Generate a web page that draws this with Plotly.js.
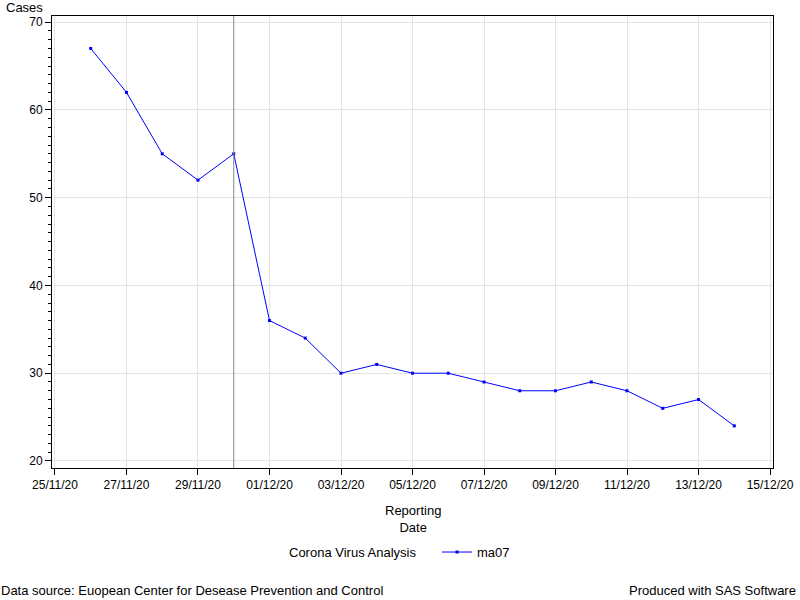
<!DOCTYPE html>
<html>
<head>
<meta charset="utf-8">
<script src="https://cdn.plot.ly/plotly-3.0.1.min.js"></script>
<style>html,body{margin:0;padding:0;background:#fff;}#chart{width:800px;height:600px;}</style>
</head>
<body>
<div id="chart"></div>
<script>
const dates = ['2020-11-26','2020-11-27','2020-11-28','2020-11-29','2020-11-30','2020-12-01','2020-12-02','2020-12-03','2020-12-04','2020-12-05','2020-12-06','2020-12-07','2020-12-08','2020-12-09','2020-12-10','2020-12-11','2020-12-12','2020-12-13','2020-12-14'];
const ma07 = [67,62,55,52,55,36,34,30,31,30,30,29,28,28,29,28,26,27,24];
const refDate = '2020-11-30';
const seriesName = 'ma07';
const legendTitle = 'Corona Virus Analysis';
const yTitle = 'Cases';
const xTitle = 'Reporting<br>Date';
const footLeft = 'Data source: Euopean Center for Desease Prevention and Control';
const footRight = 'Produced with SAS Software';

const fam = 'Liberation Sans, Arial, sans-serif';
const tickFont = {family: fam, size: 12, color: '#000'};
const font = {family: fam, size: 13, color: '#000'};

const trace = {
  x: dates, y: ma07, name: seriesName, type: 'scatter', mode: 'lines+markers',
  line: {color: '#0000ff', width: 1},
  marker: {color: '#0000ff', size: 3, symbol: 'square'}
};

const layout = {
  width: 800, height: 600,
  margin: {l: 52, r: 27, t: 16, b: 132},
  paper_bgcolor: '#fff', plot_bgcolor: '#fff',
  font: font,
  showlegend: true,
  xaxis: {
    type: 'date',
    range: ['2020-11-24 22:00', '2020-12-15 02:00'],
    tick0: '2020-11-25', dtick: 172800000,
    tickformat: '%d/%m/%y',
    ticks: 'outside', ticklen: 6, tickcolor: '#000', tickwidth: 1,
    showline: true, linecolor: '#000', linewidth: 1, mirror: true,
    showgrid: true, gridcolor: '#e4e4e4', gridwidth: 1,
    zeroline: false, tickfont: tickFont, fixedrange: true
  },
  yaxis: {
    range: [19.2, 70.7],
    tick0: 20, dtick: 10,
    ticks: 'outside', ticklen: 6, tickcolor: '#000', tickwidth: 1,
    minor: {dtick: 1, ticks: 'outside', ticklen: 3, tickcolor: '#000', showgrid: false},
    showline: true, linecolor: '#000', linewidth: 1, mirror: true,
    showgrid: true, gridcolor: '#e4e4e4', gridwidth: 1,
    zeroline: false, tickfont: tickFont, fixedrange: true
  },
  legend: {
    orientation: 'h', x: 0.534, xanchor: 'left', y: -0.186, yanchor: 'middle',
    font: font, bgcolor: 'rgba(0,0,0,0)'
  },
  shapes: [{
    type: 'line', xref: 'x', yref: 'paper', x0: refDate, x1: refDate, y0: 0, y1: 1,
    line: {color: '#888888', width: 1}
  }],
  annotations: [
    {text: yTitle, xref: 'paper', yref: 'paper', x: -0.0666, y: 1.018, xanchor: 'left', yanchor: 'middle', showarrow: false, font: font},
    {text: xTitle, xref: 'paper', yref: 'paper', x: 0.5, y: -0.113, xanchor: 'center', yanchor: 'middle', showarrow: false, font: font},
    {text: legendTitle, xref: 'paper', yref: 'paper', x: 0.508, y: -0.186, xanchor: 'right', yanchor: 'middle', showarrow: false, font: font},
    {text: footLeft, xref: 'paper', yref: 'paper', x: -0.074, y: -0.272, xanchor: 'left', yanchor: 'middle', showarrow: false, font: font},
    {text: footRight, xref: 'paper', yref: 'paper', x: 1.035, y: -0.272, xanchor: 'right', yanchor: 'middle', showarrow: false, font: font}
  ]
};

Plotly.newPlot('chart', [trace], layout, {displayModeBar: false, staticPlot: true});
</script>
</body>
</html>
